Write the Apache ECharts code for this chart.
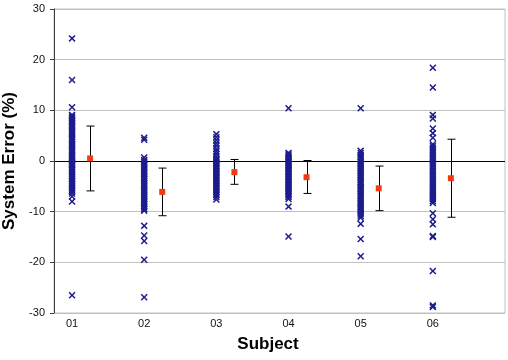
<!DOCTYPE html>
<html>
<head>
<meta charset="utf-8">
<script src="https://cdn.jsdelivr.net/npm/echarts@6/dist/echarts.min.js"></script>
<style>
  html, body { margin: 0; padding: 0; background: #fff; }
  #chart { width: 508px; height: 360px; }
</style>
</head>
<body>
<div id="chart"></div>
<script>
// subject labels sit at x = 1..6, the mean/SD marker is shifted right by a quarter
var subjects = ['01', '02', '03', '04', '05', '06'];
var meanOffset = 0.25;

// individual system errors (%) per subject
var s01 = [24.2, 16.0, 10.6, 9.1, 8.8, 8.5, 8.2, 7.9, 7.6, 7.2, 6.9, 6.6, 6.2, 5.8, 5.5, 5.2, 4.8, 4.4, 4.1, 3.7,
  3.3, 3.0, 2.6, 2.2, 1.9, 1.5, 1.1, 0.8, 0.5, 0.2, -0.1, -0.4, -0.8, -1.1, -1.5, -1.8, -2.2, -2.5, -2.9, -3.2,
  -3.6, -3.9, -4.3, -4.6, -5.0, -5.3, -5.7, -6.0, -6.4, -7.0, -8.0, -26.5];
var s02 = [4.6, 4.2, 0.7, 0.2, -0.1, -0.5, -0.8, -1.2, -1.5, -1.9, -2.2, -2.6, -2.9, -3.3, -3.6, -4.0, -4.3, -4.7,
  -5.0, -5.4, -5.7, -6.1, -6.4, -6.8, -7.1, -7.5, -7.8, -8.2, -8.5, -8.9, -9.2, -9.5, -9.8, -12.8, -14.7, -15.8,
  -19.5, -26.9];
var s03 = [5.3, 4.7, 4.1, 3.5, 3.0, 2.4, 1.9, 1.4, 0.9, 0.5, 0.2, -0.1, -0.4, -0.7, -1.0, -1.3, -1.6, -1.9, -2.2,
  -2.5, -2.8, -3.1, -3.4, -3.7, -4.0, -4.3, -4.6, -4.9, -5.2, -5.5, -5.8, -6.1, -6.4, -6.7, -7.1, -7.6];
var s04 = [10.4, 1.6, 1.3, 1.0, 0.7, 0.4, 0.1, -0.2, -0.5, -0.8, -1.1, -1.4, -1.7, -2.0, -2.3, -2.6, -2.9, -3.2,
  -3.5, -3.8, -4.1, -4.4, -4.7, -5.0, -5.3, -5.6, -5.9, -6.2, -6.5, -6.8, -7.1, -7.5, -9.0, -14.9];
var s05 = [10.4, 2.0, 1.6, 1.2, 0.8, 0.5, 0.1, -0.2, -0.6, -0.9, -1.3, -1.6, -2.0, -2.3, -2.7, -3.0, -3.4, -3.7,
  -4.1, -4.4, -4.8, -5.1, -5.5, -5.8, -6.2, -6.5, -6.9, -7.2, -7.6, -7.9, -8.3, -8.6, -9.0, -9.3, -9.7, -10.0,
  -10.4, -10.8, -11.2, -12.4, -15.4, -18.8];
var s06 = [18.4, 14.5, 9.1, 8.4, 6.4, 5.5, 4.6, 3.3, 2.9, 2.5, 2.1, 1.7, 1.3, 0.9, 0.5, 0.1, -0.3, -0.7, -1.1,
  -1.5, -1.9, -2.3, -2.7, -3.1, -3.5, -3.9, -4.3, -4.7, -5.1, -5.5, -5.9, -6.3, -6.7, -7.1, -7.5, -7.9, -8.3,
  -10.3, -11.5, -12.5, -14.8, -15.0, -21.7, -28.5, -28.8];

// mean and error bar ends per subject
var means = [0.5, -6.1, -2.2, -3.2, -5.4, -3.4];
var upper = [6.9, -1.4, 0.3, 0.1, -1.0, 4.3];
var lower = [-5.9, -10.8, -4.6, -6.4, -9.8, -11.1];

var yTicks = [-30, -20, -10, 0, 10, 20, 30];

var allRuns = [s01, s02, s03, s04, s05, s06];
var pointData = [];
allRuns.forEach(function (list, i) {
  list.forEach(function (v) { pointData.push([i + 1, v]); });
});
var meanData = means.map(function (m, i) { return [i + 1 + meanOffset, m]; });
var barData = means.map(function (m, i) { return [i + 1 + meanOffset, lower[i], upper[i]]; });

var crossPath = 'path://M0,1.5L1.5,0L5,3.5L8.5,0L10,1.5L6.5,5L10,8.5L8.5,10L5,6.5L1.5,10L0,8.5L3.5,5Z';
var font = 'Arial, "Liberation Sans", sans-serif';

var chart = echarts.init(document.getElementById('chart'));
chart.setOption({
  animation: false,
  grid: {
    left: 54, right: 3, top: 9, bottom: 47,
    outerBoundsMode: 'none',
    containLabel: false,
    show: true, borderColor: '#c0c0c0', borderWidth: 1
  },
  xAxis: {
    type: 'value',
    min: 0.75,
    max: 7,
    name: 'Subject',
    nameLocation: 'middle',
    nameGap: 23,
    nameTextStyle: { fontFamily: font, fontSize: 17, fontWeight: 'bold', color: '#000', padding: [0, 23, 0, 0] },
    axisLine: { show: false },
    axisTick: { show: false },
    splitLine: { show: false },
    axisLabel: {
      customValues: [1, 2, 3, 4, 5, 6],
      formatter: function (v) { return subjects[Math.round(v) - 1]; },
      fontFamily: font, fontSize: 11, color: '#111', margin: 5
    }
  },
  yAxis: {
    type: 'value',
    min: -30,
    max: 30,
    interval: 10,
    name: 'System Error (%)',
    nameLocation: 'middle',
    nameGap: 28,
    nameTextStyle: { fontFamily: font, fontSize: 17, fontWeight: 'bold', color: '#000' },
    axisLine: { show: true, lineStyle: { color: '#404040', width: 1 } },
    axisTick: { show: true, length: 4, lineStyle: { color: '#404040' } },
    axisLabel: { fontFamily: font, fontSize: 11, color: '#111', margin: 9 },
    splitLine: {
      show: true,
      lineStyle: {
        // the zero line is black, the rest light grey
        color: yTicks.map(function (t) { return t === 0 ? '#000000' : '#c0c0c0'; }),
        width: 1
      }
    }
  },
  series: [
    {
      type: 'scatter',
      data: pointData,
      symbol: crossPath,
      symbolSize: 7,
      itemStyle: { color: '#1c1c8e', opacity: 1 },
      z: 3
    },
    {
      type: 'custom',
      data: barData,
      z: 4,
      renderItem: function (params, api) {
        var x = api.value(0);
        var lo = api.coord([x, api.value(1)]);
        var hi = api.coord([x, api.value(2)]);
        var cx = Math.round(lo[0]) + 0.5;
        var w = 4;
        var st = { stroke: '#000', lineWidth: 1 };
        return {
          type: 'group',
          children: [
            { type: 'line', shape: { x1: cx, y1: hi[1], x2: cx, y2: lo[1] }, style: st },
            { type: 'line', shape: { x1: cx - w, y1: hi[1], x2: cx + w, y2: hi[1] }, style: st },
            { type: 'line', shape: { x1: cx - w, y1: lo[1], x2: cx + w, y2: lo[1] }, style: st }
          ]
        };
      }
    },
    {
      type: 'scatter',
      data: meanData,
      symbol: 'rect',
      symbolSize: 6,
      itemStyle: { color: '#f03c14', opacity: 1 },
      z: 5
    }
  ]
});
</script>
</body>
</html>
